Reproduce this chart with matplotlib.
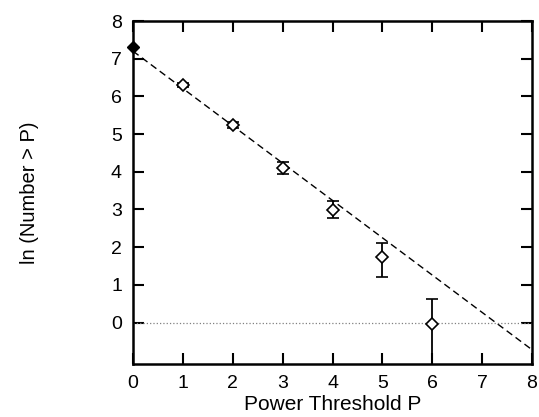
import matplotlib
matplotlib.use("Agg")
import matplotlib.pyplot as plt
import numpy as np

plt.rcParams['font.family'] = ['Liberation Sans', 'DejaVu Sans']

# Data
P = [1, 2, 3, 4, 5, 6]
lnN = [6.3, 5.25, 4.1, 2.99, 1.75, -0.05]
err_low = [0.06, 0.08, 0.15, 0.22, 0.55, 1.2]
err_high = [0.06, 0.08, 0.15, 0.23, 0.35, 0.68]
P0 = [0]
lnN0 = [7.3]
fit_intercept = 7.2
fit_slope = -0.99

fig = plt.figure(figsize=(5.39, 4.17), dpi=100)
ax = fig.add_axes([0.2468, 0.127, 0.7402, 0.8226])

ax.errorbar(P, lnN, yerr=[err_low, err_high], fmt='D', mfc='white', mec='black',
            ecolor='black', ms=6, mew=1.2, capsize=4, elinewidth=1.3, capthick=1.3,
            clip_on=True, zorder=3)
ax.plot(P0, lnN0, 'D', color='black', ms=6, clip_on=False, zorder=4)

xs = np.array([0, 8])
ax.plot(xs, fit_intercept + fit_slope * xs, '--', color='black', lw=1.0, dashes=(5, 3))
ax.axhline(0, color='gray', lw=0.9, ls=':')

ax.set_xlim(0, 8)
ax.set_ylim(-1.1, 8)
ax.set_xticks(range(0, 9))
ax.set_yticks(range(0, 9))
ax.tick_params(direction='in', length=8, width=1.5, top=True, right=True,
               labelsize=14, pad=8)
for s in ax.spines.values():
    s.set_linewidth(1.8)

ax.set_xlabel('Power Threshold P', fontsize=15, labelpad=2)
ax.set_ylabel('ln (Number > P)', fontsize=14.5, labelpad=52)

fig.savefig('out.png', dpi=100)
